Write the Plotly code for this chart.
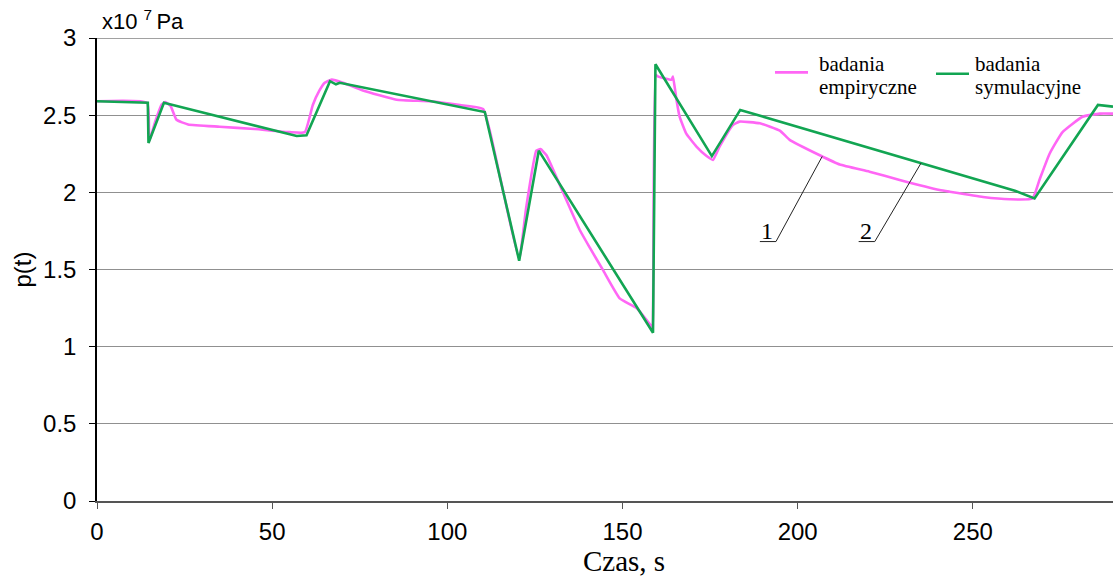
import numpy as np
import plotly.graph_objects as go

# Pressure p(t) [x10^7 Pa] versus time [s]
# Series 1: empirical measurements
t_emp = [0, 14.3, 14.9, 16.5, 18.5, 19.5, 21.0, 22.7, 26, 35, 45, 55, 59.3, 61.6, 63.5, 65,
         67, 70.2, 75.9, 85.5, 95, 103.6, 110.2, 112.1, 116, 120.5, 122.5, 125.4, 126.6,
         128.3, 133, 137.8, 140.7, 144.4, 149.2, 154, 158.3, 158.6, 159.5, 160.2, 164, 164.4,
         165.4, 166.3, 168.2, 171.1, 174, 175.8, 177.7, 181.5, 183.4, 189.2, 194.9, 197.7,
         206.3, 212, 220.5, 229.1, 240.5, 243.4, 252.9, 260.5, 267, 269, 271.9, 275.6,
         281.3, 286.2, 290]
p_emp = [2.59, 2.58, 2.33, 2.45, 2.57, 2.585, 2.56, 2.47, 2.44, 2.425, 2.41, 2.39, 2.39, 2.566,
         2.66, 2.71, 2.73, 2.71, 2.66, 2.60, 2.59, 2.566, 2.54, 2.40, 2.00, 1.57, 1.90, 2.27,
         2.28, 2.24, 2.00, 1.756, 1.64, 1.497, 1.313, 1.25, 1.13, 1.11, 2.76, 2.75, 2.73, 2.75,
         2.60, 2.49, 2.38, 2.296, 2.235, 2.21, 2.296, 2.436, 2.458, 2.447, 2.40, 2.34,
         2.24, 2.18, 2.134, 2.08, 2.015, 2.004, 1.97, 1.955, 1.96, 2.08, 2.25, 2.39,
         2.49, 2.51, 2.51]

# Series 2: simulation results
t_sim = [0, 14.5, 14.7, 19.1, 57, 59.8, 66.5, 68.2, 69.3, 110.7, 120.5, 126.1, 158.7, 159.4,
         175.5, 183.6, 262, 267.6, 285.7, 290]
p_sim = [2.59, 2.58, 2.32, 2.58, 2.365, 2.37, 2.72, 2.70, 2.71, 2.52, 1.557, 2.27, 1.09, 2.83,
         2.235, 2.534, 2.01, 1.96, 2.566, 2.555]

x_ticks = [0, 50, 100, 150, 200, 250]
y_ticks = [0, 0.5, 1, 1.5, 2, 2.5, 3]

# Curve labels: time at which each leader line meets its curve
label_names = ["1", "2"]
label_times = [207.0, 235.2]

PINK = "#ff66f5"
GREEN = "#12a552"
SANS = "Liberation Sans, Arial, sans-serif"
SERIF = "Liberation Serif, Times New Roman, serif"

fig = go.Figure()
fig.add_trace(go.Scatter(x=t_emp, y=p_emp, mode="lines", name="badania empiryczne",
                         line=dict(color=PINK, width=2.6, shape="spline", smoothing=0.4),
                         showlegend=False))
fig.add_trace(go.Scatter(x=t_sim, y=p_sim, mode="lines", name="badania symulacyjne",
                         line=dict(color=GREEN, width=2.6), showlegend=False))

# Leader lines with underlined numbers
tips_y = [np.interp(label_times[0], t_emp, p_emp), np.interp(label_times[1], t_sim, p_sim)]
shapes = []
annotations = []
for name, tx, ty in zip(label_names, label_times, tips_y):
    x_corner = tx - 13.2
    y_corner = 1.681
    x_start = x_corner - 4.6
    shapes.append(dict(type="path", xref="x", yref="y",
                       path=f"M {x_start},{y_corner} L {x_corner},{y_corner} L {tx},{ty}",
                       line=dict(color="#222222", width=1)))
    annotations.append(dict(x=x_start + 2.0, y=y_corner, xref="x", yref="y", text=name,
                            showarrow=False, xanchor="center", yanchor="bottom",
                            yshift=-4, font=dict(family=SERIF, size=24, color="black")))

# Top frame line at p = 3
shapes.append(dict(type="line", xref="paper", yref="y", x0=0, x1=1, y0=3, y1=3,
                   line=dict(color="#444444", width=1)))

# Legend drawn in paper coordinates
def px_x(px):
    return (px - 97) / 1016.0

def px_y(py):
    return (501.5 - py) / 463.2

legend_items = [(775, 808, 72.7, PINK, 817, ["badania", "empiryczne"]),
                (936, 969, 74, GREEN, 973, ["badania", "symulacyjne"])]
for x0, x1, ly, col, tx, lines in legend_items:
    shapes.append(dict(type="line", xref="paper", yref="paper", x0=px_x(x0), x1=px_x(x1),
                       y0=px_y(ly), y1=px_y(ly), line=dict(color=col, width=2.6)))
    for i, txt in enumerate(lines):
        annotations.append(dict(x=px_x(tx), y=px_y(64 + 23 * i), xref="paper", yref="paper",
                                text=txt, showarrow=False, xanchor="left", yanchor="middle",
                                font=dict(family=SERIF, size=21, color="black")))

# Axis titles and unit
annotations.append(dict(x=px_x(624), y=px_y(562), xref="paper", yref="paper", text="Czas, s",
                        showarrow=False, xanchor="center", yanchor="middle",
                        font=dict(family=SERIF, size=29, color="black")))
annotations.append(dict(x=px_x(23), y=px_y(270), xref="paper", yref="paper", text="p(t)",
                        showarrow=False, textangle=-90, xanchor="center", yanchor="middle",
                        font=dict(family=SANS, size=24, color="black")))
annotations.append(dict(x=px_x(100), y=px_y(20), xref="paper", yref="paper",
                        text="x10 <sup>7 </sup>Pa", showarrow=False, xanchor="left",
                        yanchor="middle", font=dict(family=SANS, size=22, color="black")))

fig.update_layout(
    width=1113, height=579,
    margin=dict(l=97, r=0, t=38, b=78, pad=0),
    paper_bgcolor="white", plot_bgcolor="white",
    shapes=shapes, annotations=annotations,
    xaxis=dict(range=[0, 290], tickvals=x_ticks, ticks="outside", ticklen=6,
               tickcolor="#555555", showline=True, linecolor="#555555", linewidth=1.5,
               showgrid=False, zeroline=False, ticklabelstandoff=2,
               tickfont=dict(family=SANS, size=24, color="black")),
    yaxis=dict(range=[0, 3], tickvals=y_ticks, ticks="outside", ticklen=6,
               tickcolor="black", showline=True, linecolor="black", linewidth=1.5,
               showgrid=True, gridcolor="#909090", gridwidth=1, zeroline=False,
               ticklabelstandoff=8,
               tickfont=dict(family=SANS, size=24, color="black")),
)

fig.write_html("out.html")
